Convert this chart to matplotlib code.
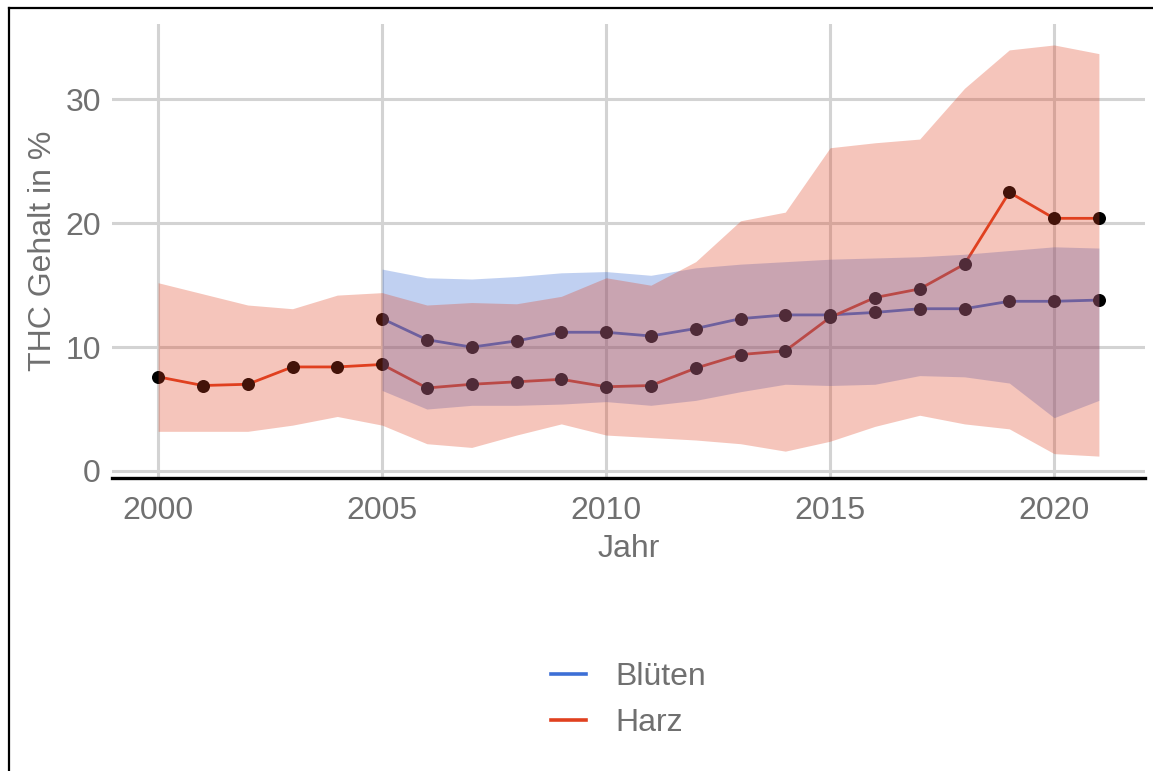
import matplotlib
matplotlib.use("Agg")
import matplotlib.pyplot as plt
from matplotlib.lines import Line2D

plt.rcParams['font.family'] = ['Liberation Sans', 'DejaVu Sans']

# THC content per year
years_harz = list(range(2000, 2022))
harz_mean = [7.6, 6.9, 7.0, 8.4, 8.4, 8.6, 6.7, 7.0, 7.2, 7.4, 6.8,
             6.9, 8.3, 9.4, 9.7, 12.4, 14.0, 14.7, 16.7, 22.5, 20.4, 20.4]
harz_upper = [15.2, 14.3, 13.4, 13.1, 14.2, 14.4, 13.4, 13.6, 13.5, 14.1, 15.6,
              15.0, 16.9, 20.2, 20.9, 26.1, 26.5, 26.8, 30.9, 34.0, 34.4, 33.7]
harz_lower = [3.2, 3.2, 3.2, 3.7, 4.4, 3.7, 2.2, 1.9, 2.9, 3.8, 2.9,
              2.7, 2.5, 2.2, 1.6, 2.4, 3.6, 4.5, 3.8, 3.4, 1.4, 1.2]

years_blueten = list(range(2005, 2022))
blueten_mean = [12.3, 10.6, 10.0, 10.5, 11.2, 11.2, 10.9, 11.5, 12.3,
                12.6, 12.6, 12.8, 13.1, 13.1, 13.7, 13.7, 13.8]
blueten_upper = [16.3, 15.6, 15.5, 15.7, 16.0, 16.1, 15.8, 16.4, 16.7,
                 16.9, 17.1, 17.2, 17.3, 17.5, 17.8, 18.1, 18.0]
blueten_lower = [6.5, 5.0, 5.3, 5.3, 5.4, 5.6, 5.3, 5.7, 6.4,
                 7.0, 6.9, 7.0, 7.7, 7.6, 7.1, 4.3, 5.7]

blue = '#3d6fd6'
red = '#e0401f'
text_grey = '#707070'
grid_grey = '#d3d3d3'

fig = plt.figure(figsize=(11.53, 7.71), dpi=100)
ax = fig.add_axes([0.0971, 0.380, 0.896, 0.589])

# lines and points go underneath the ribbons
ax.plot(years_blueten, blueten_mean, color=blue, lw=2.0, zorder=2)
ax.plot(years_harz, harz_mean, color=red, lw=2.0, zorder=2)
ax.scatter(years_blueten, blueten_mean, s=88, color='black', zorder=3, linewidths=0)
ax.scatter(years_harz, harz_mean, s=88, color='black', zorder=3, linewidths=0)

ax.fill_between(years_blueten, blueten_lower, blueten_upper, color=blue,
                alpha=0.32, lw=0, zorder=4)
ax.fill_between(years_harz, harz_lower, harz_upper, color=red,
                alpha=0.3, lw=0, zorder=4)

ax.set_xlim(1998.97, 2022.03)
ax.set_ylim(-0.57, 36.1)
ax.set_xticks([2000, 2005, 2010, 2015, 2020])
ax.set_yticks([0, 10, 20, 30])

ax.grid(True, color=grid_grey, lw=2.2, zorder=1)
ax.set_axisbelow(True)
for side in ['top', 'right', 'left']:
    ax.spines[side].set_visible(False)
ax.spines['bottom'].set_color('black')
ax.spines['bottom'].set_linewidth(2.4)
ax.tick_params(axis='x', length=0, labelsize=23, labelcolor=text_grey, pad=13)
ax.tick_params(axis='y', length=0, labelsize=23, labelcolor=text_grey, pad=8)

ax.set_xlabel('Jahr', fontsize=23, color=text_grey, labelpad=6)
ax.set_ylabel('THC Gehalt in %', fontsize=23, color=text_grey, labelpad=5)

handles = [Line2D([], [], color=blue, lw=2.6), Line2D([], [], color=red, lw=2.6)]
fig.legend(handles, ['Blüten', 'Harz'], loc='center', bbox_to_anchor=(0.545, 0.092),
           frameon=False, fontsize=23, labelcolor=text_grey, handlelength=1.1,
           handletextpad=0.9, labelspacing=0.5)

# partial frame along the left and top edge of the image
fig.add_artist(Line2D([0.0075, 0.0075], [0, 0.99], transform=fig.transFigure,
                      color='black', lw=1.6))
fig.add_artist(Line2D([0.0075, 1], [0.99, 0.99], transform=fig.transFigure,
                      color='black', lw=1.6))

fig.savefig('out.png', dpi=100, facecolor='white')
